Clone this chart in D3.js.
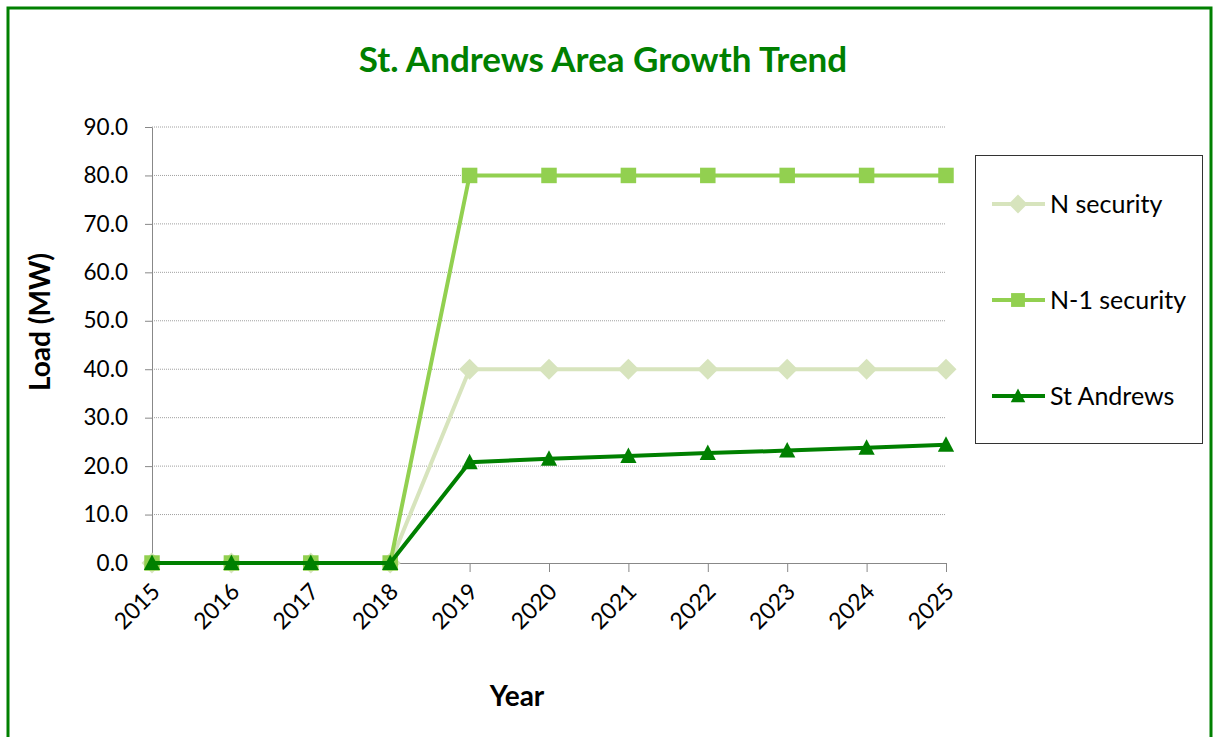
<!DOCTYPE html>
<html><head><meta charset="utf-8">
<script src="https://cdn.jsdelivr.net/npm/d3@7"></script>
<style>body{margin:0;background:#fff;} svg{display:block;}</style>
</head><body><svg id="c" width="1213" height="737"></svg>
<script>
const years = ["2015","2016","2017","2018","2019","2020","2021","2022","2023","2024","2025"];
const nSecurity = [0,0,0,0,40,40,40,40,40,40,40];
const n1Security = [0,0,0,0,80,80,80,80,80,80,80];
const stAndrews = [0,0,0,0,20.8,21.5,22.1,22.7,23.2,23.8,24.4];
const yTicks = [0,10,20,30,40,50,60,70,80,90];
const seriesNames = ["N security","N-1 security","St Andrews"];

const font = "Lato, 'Open Sans', sans-serif";
const svg = d3.select("#c");
svg.append("rect").attr("x",8).attr("y",8).attr("width",1203).attr("height",740)
  .attr("fill","#fff").attr("stroke","#008000").attr("stroke-width",3);

svg.append("text").attr("x",603).attr("y",72).attr("text-anchor","middle")
  .attr("font-family",font).attr("font-weight","bold").attr("font-size",35)
  .attr("fill","#008000").text("St. Andrews Area Growth Trend");

const x = d3.scalePoint().domain(years).range([152,946]);
const y = d3.scaleLinear().domain([0,90]).range([563,127]);

// custom symbols
const diamond = {draw(ctx, size){ const r = Math.sqrt(size/2); ctx.moveTo(0,-r); ctx.lineTo(r,0); ctx.lineTo(0,r); ctx.lineTo(-r,0); ctx.closePath(); }};
const square = {draw(ctx, size){ const h = Math.sqrt(size)/2; ctx.moveTo(-h,-h); ctx.lineTo(h,-h); ctx.lineTo(h,h); ctx.lineTo(-h,h); ctx.closePath(); }};
const tri = {draw(ctx, size){ const h = Math.sqrt(size)/2; ctx.moveTo(0,-h*1.1); ctx.lineTo(h*1.05,h*0.9); ctx.lineTo(-h*1.05,h*0.9); ctx.closePath(); }};

// gridlines
svg.append("g").selectAll("line").data(yTicks.filter(d=>d>0)).join("line")
  .attr("x1",152).attr("x2",946).attr("y1",d=>y(d)).attr("y2",d=>y(d))
  .attr("stroke","#a0a0a0").attr("stroke-width",1).attr("stroke-dasharray","1,1");

const yAxis = svg.append("g").attr("transform","translate(152,0)")
  .call(d3.axisLeft(y).tickValues(yTicks).tickFormat(d3.format(".1f")).tickSize(7).tickSizeOuter(0));
yAxis.select(".domain").attr("stroke","#888");
yAxis.selectAll(".tick line").attr("stroke","#888");
yAxis.selectAll("text").attr("font-family",font).attr("font-size",22.5).attr("fill","#000").attr("x",-24);

const xAxis = svg.append("g").attr("transform","translate(0,563)")
  .call(d3.axisBottom(x).tickSize(9).tickSizeOuter(0));
xAxis.select(".domain").attr("stroke","#888");
xAxis.selectAll(".tick line").attr("stroke","#888");
xAxis.selectAll("text").attr("font-family",font).attr("font-size",23).attr("fill","#000")
  .attr("text-anchor","end").attr("x",0).attr("y",0).attr("dy",0)
  .attr("transform","translate(9,30) rotate(-45)");

svg.append("text").attr("transform","translate(50,322) rotate(-90)").attr("text-anchor","middle")
  .attr("font-family",font).attr("font-weight","bold").attr("font-size",28).text("Load (MW)");
svg.append("text").attr("x",517).attr("y",706).attr("text-anchor","middle")
  .attr("font-family",font).attr("font-weight","bold").attr("font-size",28).text("Year");

const series = [
  {name:seriesNames[0], vals:nSecurity, color:"#d7e4bd", sym:diamond, size:220},
  {name:seriesNames[1], vals:n1Security, color:"#92d050", sym:square, size:240},
  {name:seriesNames[2], vals:stAndrews, color:"#008000", sym:tri, size:240}
];
const line = d3.line().x((d,i)=>x(years[i])).y(d=>y(d));
series.forEach(s=>{
  const g = svg.append("g");
  g.append("path").attr("d",line(s.vals)).attr("fill","none").attr("stroke",s.color).attr("stroke-width",4);
  g.selectAll("path.m").data(s.vals).join("path").attr("class","m")
    .attr("d",d3.symbol().type(s.sym).size(s.size))
    .attr("transform",(d,i)=>`translate(${x(years[i])},${y(d)})`).attr("fill",s.color);
});

// legend
svg.append("rect").attr("x",975.5).attr("y",155.5).attr("width",227).attr("height",288)
  .attr("fill","#fff").attr("stroke","#333").attr("stroke-width",1);
series.forEach((s,i)=>{
  const cy = 204 + i*96;
  svg.append("line").attr("x1",992).attr("x2",1045).attr("y1",cy).attr("y2",cy)
    .attr("stroke",s.color).attr("stroke-width",4);
  svg.append("path").attr("d",d3.symbol().type(s.sym).size(s.size*0.8)())
    .attr("transform",`translate(1018,${cy})`).attr("fill",s.color);
  svg.append("text").attr("x",1050).attr("y",cy+8.5).attr("font-family",font).attr("font-size",25)
    .text(s.name);
});
</script></body></html>
